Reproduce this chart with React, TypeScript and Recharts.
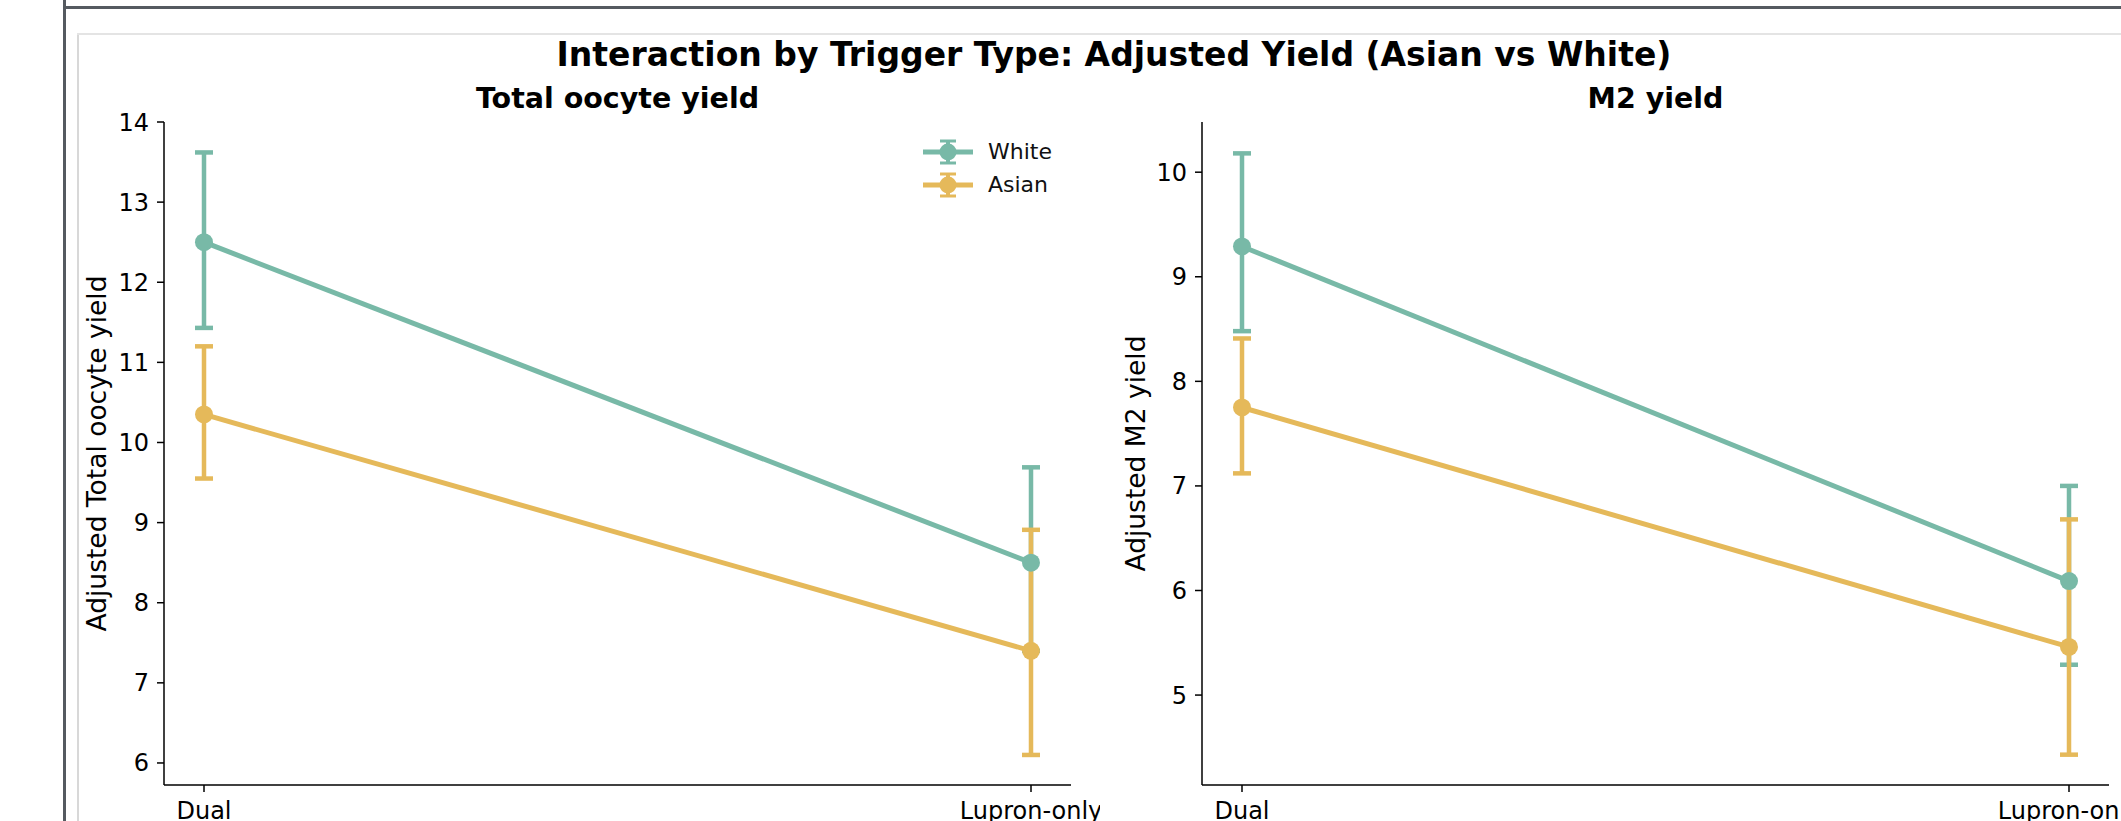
import { LineChart, Line, XAxis, YAxis, ErrorBar, Label } from 'recharts';

const FONT = '"DejaVu Sans", sans-serif';
const WHITE_COLOR = '#78b9a7';
const ASIAN_COLOR = '#e5b95a';

// categories on the x axis
const triggers = ['Dual', 'Lupron-only'];

// Total oocyte yield (adjusted means + CI bounds)
const totalWhite = [12.5, 8.5];
const totalWhiteLow = [11.43, 7.4];
const totalWhiteHigh = [13.62, 9.69];
const totalAsian = [10.35, 7.4];
const totalAsianLow = [9.55, 6.1];
const totalAsianHigh = [11.2, 8.91];
const totalTicks = [6, 7, 8, 9, 10, 11, 12, 13, 14];

// M2 yield
const m2White = [9.29, 6.09];
const m2WhiteLow = [8.48, 5.29];
const m2WhiteHigh = [10.18, 7.0];
const m2Asian = [7.75, 5.46];
const m2AsianLow = [7.12, 4.43];
const m2AsianHigh = [8.41, 6.68];
const m2Ticks = [5, 6, 7, 8, 9, 10];

const buildRows = (
    white: number[], whiteLow: number[], whiteHigh: number[],
    asian: number[], asianLow: number[], asianHigh: number[],
) => triggers.map((t, i) => ({
    trigger: t,
    White: white[i],
    whiteErr: [white[i] - whiteLow[i], whiteHigh[i] - white[i]],
    Asian: asian[i],
    asianErr: [asian[i] - asianLow[i], asianHigh[i] - asian[i]],
}));

const totalData = buildRows(totalWhite, totalWhiteLow, totalWhiteHigh, totalAsian, totalAsianLow, totalAsianHigh);
const m2Data = buildRows(m2White, m2WhiteLow, m2WhiteHigh, m2Asian, m2AsianLow, m2AsianHigh);

const tickStyle = { fontFamily: FONT, fontSize: 24, fill: '#000' };

const LegendBox = () => (
    <div style={{ fontFamily: FONT, fontSize: 22, color: '#111' }}>
        {[{ name: 'White', color: WHITE_COLOR }, { name: 'Asian', color: ASIAN_COLOR }].map((s) => (
            <div key={s.name} style={{ display: 'flex', alignItems: 'center', height: 33 }}>
                <svg width={52} height={28}>
                    <line x1={1} y1={14} x2={51} y2={14} stroke={s.color} strokeWidth={5} />
                    <line x1={26} y1={3} x2={26} y2={25} stroke={s.color} strokeWidth={4} />
                    <line x1={18} y1={3} x2={34} y2={3} stroke={s.color} strokeWidth={3} />
                    <line x1={18} y1={25} x2={34} y2={25} stroke={s.color} strokeWidth={3} />
                    <circle cx={26} cy={14} r={8.5} fill={s.color} />
                </svg>
                <span style={{ marginLeft: 14 }}>{s.name}</span>
            </div>
        ))}
    </div>
);

interface IPanel {
    data: ReturnType<typeof buildRows>;
    domain: [number, number];
    ticks: number[];
    yLabel: string;
    width: number;
    marginLeft: number;
    marginRight: number;
    labelOffset: number;
}

const Panel = ({ data, domain, ticks, yLabel, width, marginLeft, marginRight, labelOffset }: IPanel) => (
    <LineChart
        width={width}
        height={821}
        data={data}
        margin={{ top: 122, right: marginRight, left: marginLeft, bottom: 0 }}
    >
        <XAxis
            dataKey="trigger"
            padding={{ left: 40, right: 40 }}
            height={36}
            tick={tickStyle}
            tickSize={7}
            tickMargin={10}
            axisLine={{ stroke: '#000', strokeWidth: 1.5 }}
            tickLine={{ stroke: '#000', strokeWidth: 1.5 }}
            interval={0}
        />
        <YAxis
            type="number"
            domain={domain}
            ticks={ticks}
            allowDataOverflow
            width={64}
            tick={tickStyle}
            tickSize={7}
            tickMargin={8}
            axisLine={{ stroke: '#000', strokeWidth: 1.5 }}
            tickLine={{ stroke: '#000', strokeWidth: 1.5 }}
        >
            <Label
                value={yLabel}
                angle={-90}
                position="insideLeft"
                offset={labelOffset}
                style={{ textAnchor: 'middle', fontFamily: FONT, fontSize: 26.5, fill: '#000' }}
            />
        </YAxis>
        <Line
            dataKey="White"
            stroke={WHITE_COLOR}
            strokeWidth={5}
            dot={{ r: 9, fill: WHITE_COLOR, stroke: 'none' }}
            activeDot={false}
            isAnimationActive={false}
        >
            <ErrorBar dataKey="whiteErr" width={9} stroke={WHITE_COLOR} strokeWidth={4.5} />
        </Line>
        <Line
            dataKey="Asian"
            stroke={ASIAN_COLOR}
            strokeWidth={5}
            dot={{ r: 9, fill: ASIAN_COLOR, stroke: 'none' }}
            activeDot={false}
            isAnimationActive={false}
        >
            <ErrorBar dataKey="asianErr" width={9} stroke={ASIAN_COLOR} strokeWidth={4.5} />
        </Line>
    </LineChart>
);

export default function App() {
    return (
        <div style={{ position: 'absolute', left: 0, top: 0, width: 2121, height: 821, background: '#fff', overflow: 'hidden', fontFamily: FONT }}>
            {/* viewer frame */}
            <div style={{ position: 'absolute', left: 63, top: 0, width: 3, height: 821, background: '#555a60' }} />
            <div style={{ position: 'absolute', left: 63, top: 6, width: 2058, height: 3, background: '#555a60' }} />
            <div style={{ position: 'absolute', left: 77, top: 33, width: 2, height: 788, background: '#d8d8d8' }} />
            <div style={{ position: 'absolute', left: 77, top: 33, width: 2044, height: 2, background: '#e4e4e4' }} />

            <div style={{ position: 'absolute', left: 0, top: 35, width: 2228, textAlign: 'center', fontWeight: 'bold', fontSize: 33, lineHeight: '40px' }}>
                Interaction by Trigger Type: Adjusted Yield (Asian vs White)
            </div>
            <div style={{ position: 'absolute', left: 164, top: 82, width: 907, textAlign: 'center', fontWeight: 'bold', fontSize: 28.5, lineHeight: '34px' }}>
                Total oocyte yield
            </div>
            <div style={{ position: 'absolute', left: 1202, top: 82, width: 907, textAlign: 'center', fontWeight: 'bold', fontSize: 28.5, lineHeight: '34px' }}>
                M2 yield
            </div>

            <div style={{ position: 'absolute', left: 0, top: 0 }}>
                <Panel
                    data={totalData}
                    domain={[5.725, 14.0]}
                    ticks={totalTicks}
                    yLabel="Adjusted Total oocyte yield"
                    width={1100}
                    marginLeft={100}
                    marginRight={29}
                    labelOffset={-3}
                />
            </div>
            <div style={{ position: 'absolute', left: 1100, top: 0 }}>
                <Panel
                    data={m2Data}
                    domain={[4.14, 10.48]}
                    ticks={m2Ticks}
                    yLabel="Adjusted M2 yield"
                    width={1021}
                    marginLeft={38}
                    marginRight={12}
                    labelOffset={-2}
                />
            </div>

            <div style={{ position: 'absolute', left: 922, top: 135 }}>
                <LegendBox />
            </div>
        </div>
    );
}
